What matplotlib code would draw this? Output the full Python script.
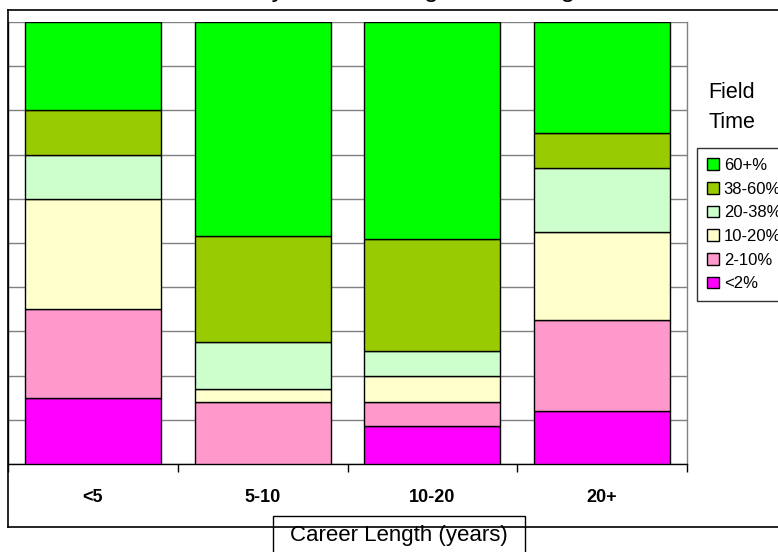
import matplotlib
matplotlib.use('Agg')
import matplotlib.pyplot as plt
from matplotlib.patches import Rectangle
from matplotlib.lines import Line2D

# data (percent of field time per career-length group)
careers = ['<5', '5-10', '10-20', '20+']
bands = ['<2%', '2-10%', '10-20%', '20-38%', '38-60%', '60+%']
lt2 = [15, 0, 8.5, 12]
p2_10 = [20, 14, 5.5, 20.5]
p10_20 = [25, 3, 6, 20]
p20_38 = [10, 10.5, 5.5, 14.5]
p38_60 = [10, 24, 25.5, 8]
p60 = [20, 48.5, 49, 25]
colors = ['#FF00FF', '#FF99CC', '#FFFFCC', '#CCFFCC', '#99CC00', '#00FF00']

FONT = ['Liberation Sans', 'DejaVu Sans']
plt.rcParams['font.family'] = FONT

W, H = 778, 552
fig = plt.figure(figsize=(W / 100, H / 100), dpi=100)
fig.patch.set_facecolor('white')

# outer chart frame (right side runs off the picture)
fig.add_artist(Line2D([8 / W, 1], [1 - 10 / H, 1 - 10 / H], color='black', lw=1.2))
fig.add_artist(Line2D([8 / W, 8 / W], [1 - 10 / H, 1 - 527 / H], color='black', lw=1.2))
fig.add_artist(Line2D([8 / W, 1], [1 - 527 / H, 1 - 527 / H], color='black', lw=1.2))

# title sits above the picture, only its descenders show (as in the reference)
fig.text(420 / W, 1 + 3.5 / H, 'Field Time by Career Length and Program Source',
         ha='center', va='baseline', fontsize=19)

ax = fig.add_axes([8 / W, 1 - 464 / H, 679 / W, 442 / H])
ax.set_facecolor('white')

series = [lt2, p2_10, p10_20, p20_38, p38_60, p60]
x = list(range(len(careers)))
bottom = [0] * len(careers)
handles = []
for vals, col, lab in zip(series, colors, bands):
    b = ax.bar(x, vals, width=0.8, bottom=bottom, color=col, edgecolor='black',
               linewidth=1, label=lab, zorder=3)
    handles.append(b)
    bottom = [a + v for a, v in zip(bottom, vals)]

ax.set_xlim(-0.5, 3.5)
ax.set_ylim(0, 100)
ax.set_yticks(range(0, 101, 10))
ax.set_yticklabels([])
ax.tick_params(axis='y', length=0)
ax.yaxis.grid(True, color='#808080', lw=1, zorder=0)

ax.set_xticks(x)
ax.set_xticklabels(careers, fontsize=13, fontweight='bold')
ax.tick_params(axis='x', length=0, pad=18)
ax.set_xticks([-0.5, 0.5, 1.5, 2.5, 3.5], minor=True)
ax.tick_params(axis='x', which='minor', length=6, width=1, color='black', direction='out')

ax.spines['top'].set_visible(False)
ax.spines['left'].set_color('black')
ax.spines['bottom'].set_color('black')
ax.spines['right'].set_color('#808080')
for s in ax.spines.values():
    s.set_linewidth(1)

# legend, highest band on top
leg = ax.legend(handles[::-1], bands[::-1], loc='upper left',
                bbox_to_anchor=(697 / W, 1 - 148 / H), bbox_transform=fig.transFigure,
                borderaxespad=0, fontsize=12, fancybox=False, frameon=True,
                handlelength=0.7, handleheight=0.7, handletextpad=0.3,
                labelspacing=0.52, borderpad=0.6)
leg.get_frame().set_edgecolor('black')
leg.get_frame().set_linewidth(1)
fig.text(732 / W, 1 - 93 / H, 'Field', ha='center', va='center', fontsize=15.5)
fig.text(732 / W, 1 - 122 / H, 'Time', ha='center', va='center', fontsize=15.5)

# x-axis title in its own white box over the frame line
fig.add_artist(Rectangle((273 / W, 1 - 560 / H), 252 / W, 44 / H,
                         transform=fig.transFigure, facecolor='white',
                         edgecolor='black', lw=1))
fig.text(399 / W, 1 - 535 / H, 'Career Length (years)', ha='center', va='center',
         fontsize=16)

fig.savefig('out.png', dpi=100)
